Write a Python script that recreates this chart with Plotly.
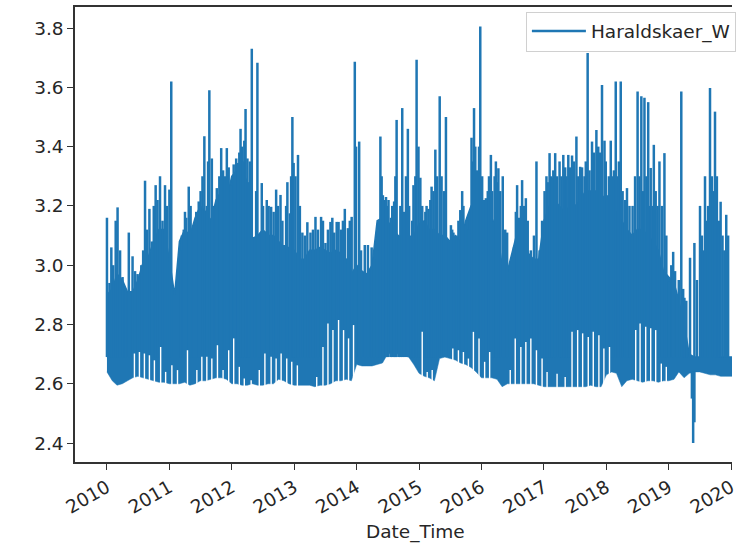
import pandas as pd
import plotly.graph_objects as go

# ---- data ----
series_name = "Haraldskaer_W"
first_month = "2010-01-01"

# lower edge of the dense water-level band, one value per month (2010-01 .. 2020-02)
body_low = [
    2.64, 2.61, 2.595, 2.60, 2.61, 2.62, 2.625, 2.62, 2.615, 2.61, 2.605, 2.605,
    2.60, 2.60, 2.60, 2.605, 2.595, 2.60, 2.61, 2.61, 2.615, 2.62, 2.62, 2.615,
    2.60, 2.60, 2.595, 2.595, 2.60, 2.595, 2.595, 2.60, 2.60, 2.615, 2.61, 2.60,
    2.595, 2.595, 2.595, 2.595, 2.59, 2.595, 2.595, 2.60, 2.61, 2.61, 2.615, 2.61,
    2.665, 2.66, 2.66, 2.66, 2.665, 2.67, 2.70, 2.705, 2.70, 2.695, 2.69, 2.665,
    2.635, 2.625, 2.62, 2.61, 2.685, 2.69, 2.685, 2.68, 2.67, 2.665, 2.655, 2.64,
    2.62, 2.62, 2.62, 2.615, 2.59, 2.60, 2.60, 2.60, 2.60, 2.60, 2.60, 2.595,
    2.59, 2.59, 2.59, 2.59, 2.59, 2.59, 2.59, 2.59, 2.59, 2.595, 2.59, 2.59,
    2.63, 2.64, 2.635, 2.59, 2.61, 2.615, 2.61, 2.605, 2.61, 2.61, 2.605, 2.61,
    2.61, 2.615, 2.64, 2.62, 2.635, 2.64, 2.64, 2.635, 2.63, 2.63, 2.625, 2.625,
    2.625, 2.625,
]

# upper edge of the dense band, one value per month
body_top = [
    2.90, 2.92, 2.97, 2.95, 2.91, 2.91, 2.95, 3.01, 3.03, 3.08, 3.12, 3.12,
    3.02, 2.90, 3.08, 3.12, 3.10, 3.16, 3.20, 3.18, 3.15, 3.22, 3.25, 3.22,
    3.30, 3.32, 3.32, 3.28, 3.09, 3.10, 3.12, 3.10, 3.10, 3.08, 3.06, 3.06,
    3.05, 3.02, 3.02, 3.05, 3.05, 3.06, 3.05, 3.04, 3.05, 3.04, 3.02, 2.97,
    3.00, 2.98, 2.97, 3.00, 3.15, 3.16, 3.15, 3.12, 3.10, 3.08, 3.07, 3.10,
    3.14, 3.15, 3.12, 3.12, 3.10, 3.10, 3.08, 3.10, 3.08, 3.15, 3.20, 3.20,
    3.20, 3.18, 3.16, 3.12, 3.00, 2.98, 3.05, 3.12, 3.08, 3.04, 3.02, 3.02,
    3.15, 3.20, 3.22, 3.20, 3.18, 3.20, 3.20, 3.22, 3.25, 3.25, 3.25, 3.24,
    3.22, 3.20, 3.18, 3.15, 3.12, 3.10, 3.12, 3.12, 3.10, 3.08, 3.05, 2.98,
    2.96, 2.94, 2.88, 2.80, 2.70, 2.69, 2.69, 2.70, 2.70, 2.69, 2.69, 2.69,
    2.69, 2.69,
]

# storm-surge peaks (decimal year, peak level)
spike_years = [
    2010.00, 2010.04, 2010.07, 2010.14, 2010.17, 2010.25, 2010.30, 2010.35, 2010.41, 2010.49,
    2010.55, 2010.61, 2010.68, 2010.72, 2010.78, 2010.85, 2010.89, 2010.93, 2011.00, 2011.03,
    2011.18, 2011.23, 2011.27, 2011.31, 2011.39, 2011.47, 2011.56, 2011.60, 2011.64, 2011.68,
    2011.76, 2011.83, 2011.92, 2011.99, 2012.05, 2012.10, 2012.14, 2012.18, 2012.22, 2012.27,
    2012.32, 2012.36, 2012.41, 2012.44, 2012.48, 2012.52, 2012.56, 2012.63, 2012.71, 2012.78,
    2012.84, 2012.89, 2012.93, 2012.97, 2012.99, 2013.06, 2013.13, 2013.21, 2013.26, 2013.34,
    2013.43, 2013.50, 2013.58, 2013.64, 2013.68, 2013.71, 2013.81, 2013.86, 2013.92, 2013.97,
    2014.04, 2014.13, 2014.18, 2014.24, 2014.38, 2014.42, 2014.47, 2014.51, 2014.55, 2014.60,
    2014.64, 2014.68, 2014.73, 2014.76, 2014.82, 2014.86, 2014.91, 2014.96, 2015.02, 2015.07,
    2015.15, 2015.20, 2015.26, 2015.33, 2015.43, 2015.51, 2015.55, 2015.60, 2015.66, 2015.69,
    2015.74, 2015.80, 2015.84, 2015.88, 2015.90, 2015.93, 2015.98, 2016.04, 2016.07, 2016.15,
    2016.19, 2016.23, 2016.27, 2016.34, 2016.41, 2016.52, 2016.57, 2016.60, 2016.65, 2016.71,
    2016.79, 2016.88, 2016.93, 2017.01, 2017.09, 2017.13, 2017.18, 2017.25, 2017.31, 2017.39,
    2017.45, 2017.52, 2017.58, 2017.70, 2017.73, 2017.77, 2017.84, 2017.93, 2017.97, 2018.01,
    2018.07, 2018.15, 2018.23, 2018.33, 2018.42, 2018.50, 2018.56, 2018.61, 2018.67, 2018.71,
    2018.76, 2018.85, 2018.93, 2019.00, 2019.07, 2019.13, 2019.20, 2019.25, 2019.34, 2019.41,
    2019.50, 2019.58, 2019.66, 2019.74, 2019.83, 2019.92,
]
spike_tops = [
    3.16, 2.94, 3.06, 3.15, 3.195, 2.96, 2.92, 3.11, 3.03, 2.97,
    3.00, 3.285, 3.19, 3.08, 3.27, 3.30, 3.15, 3.27, 3.255, 3.62,
    3.05, 3.12, 3.16, 3.265, 3.135, 3.215, 3.435, 3.20, 3.59, 3.36,
    3.26, 3.395, 3.395, 3.27, 3.315, 3.345, 3.46, 3.35, 3.527, 3.28,
    3.73, 3.095, 3.683, 3.10, 3.277, 3.115, 3.22, 3.197, 3.255, 3.237,
    3.068, 3.28, 3.175, 3.50, 3.345, 3.372, 3.11, 3.145, 3.11, 3.163,
    3.163, 3.075, 3.146, 3.11, 3.146, 3.146, 3.19, 3.125, 3.163, 3.686,
    3.417, 3.068, 3.068, 3.06, 3.434, 3.236, 3.23, 3.22, 3.16, 3.215,
    3.49, 3.10, 3.53, 3.18, 3.46, 3.10, 3.27, 3.693, 3.295, 3.146,
    3.19, 3.265, 3.39, 3.57, 3.50, 3.135, 3.11, 3.10, 3.186, 3.25,
    3.135, 3.12, 3.43, 3.53, 3.40, 3.32, 3.805, 3.22, 3.226, 3.372,
    3.146, 3.35, 3.327, 3.30, 3.11, 3.06, 3.27, 3.16, 3.287, 3.226,
    3.05, 3.35, 3.05, 3.25, 3.378, 3.295, 3.378, 3.35, 3.372, 3.372,
    3.37, 3.434, 3.332, 3.716, 3.32, 3.417, 3.456, 3.608, 3.42, 3.236,
    3.42, 3.62, 3.62, 3.26, 3.20, 3.586, 3.57, 3.565, 3.55, 3.328,
    3.406, 3.35, 3.378, 2.944, 3.045, 2.90, 3.586, 2.89, 3.025, 3.075,
    3.20, 3.30, 3.598, 3.518, 3.214, 3.17,
]

# smaller peaks that rise just above the dense band
minor_years = [
    2010.10, 2010.21, 2010.45, 2010.58, 2010.64, 2010.75, 2010.81, 2010.96,
    2011.20, 2011.25, 2011.34, 2011.43, 2011.50, 2011.53, 2011.62, 2011.71, 2011.80, 2011.86,
    2011.89, 2011.95,
    2012.03, 2012.07, 2012.12, 2012.16, 2012.20, 2012.25, 2012.29, 2012.39, 2012.50, 2012.59,
    2012.67, 2012.74, 2012.81, 2012.87, 2012.95,
    2013.02, 2013.09, 2013.17, 2013.30, 2013.38, 2013.46, 2013.54, 2013.61, 2013.75, 2013.78,
    2013.89, 2013.99,
    2014.07, 2014.28, 2014.33, 2014.40, 2014.45, 2014.49, 2014.57, 2014.62, 2014.70, 2014.79,
    2014.84, 2014.89, 2014.94, 2014.99,
    2015.05, 2015.10, 2015.12, 2015.18, 2015.23, 2015.29, 2015.36, 2015.40, 2015.53, 2015.63,
    2015.71, 2015.77, 2015.86, 2015.96,
    2016.01, 2016.10, 2016.12, 2016.17, 2016.21, 2016.25, 2016.30, 2016.38, 2016.55, 2016.63,
    2016.68, 2016.74, 2016.84, 2016.97,
    2017.04, 2017.06, 2017.11, 2017.15, 2017.21, 2017.28, 2017.34, 2017.36, 2017.42, 2017.48,
    2017.55, 2017.61, 2017.65, 2017.67, 2017.80, 2017.87, 2017.90, 2017.99,
    2018.04, 2018.10, 2018.12, 2018.18, 2018.20, 2018.26, 2018.30, 2018.37, 2018.46, 2018.53,
    2018.59, 2018.64, 2018.69, 2018.74, 2018.79, 2018.82, 2018.89, 2018.96,
    2019.04, 2019.10, 2019.16, 2019.23, 2019.28, 2019.45, 2019.53, 2019.55, 2019.61, 2019.63,
    2019.69, 2019.71, 2019.77, 2019.80, 2019.86, 2019.89, 2019.95,
]
minor_tops = [
    3.00, 3.05, 2.98, 3.05, 3.12, 3.20, 3.22, 3.20,
    3.10, 3.18, 3.20, 3.18, 3.25, 3.30, 3.35, 3.20, 3.30, 3.32,
    3.30, 3.33,
    3.34, 3.36, 3.38, 3.40, 3.42, 3.36, 3.35, 3.25, 3.20, 3.20,
    3.18, 3.20, 3.15, 3.20, 3.30,
    3.30, 3.20, 3.10, 3.12, 3.12, 3.15, 3.12, 3.16, 3.12, 3.15,
    3.15, 3.40,
    3.05, 3.02, 3.05, 3.30, 3.22, 3.20, 3.20, 3.30, 3.20, 3.30,
    3.20, 3.15, 3.30, 3.40,
    3.20, 3.18, 3.20, 3.22, 3.25, 3.30, 3.30, 3.25, 3.12, 3.15,
    3.20, 3.15, 3.35, 3.40,
    3.30, 3.25, 3.30, 3.25, 3.30, 3.28, 3.25, 3.12, 3.18, 3.20,
    3.20, 3.15, 3.10, 3.15,
    3.30, 3.28, 3.30, 3.32, 3.30, 3.30, 3.33, 3.30, 3.33, 3.35,
    3.30, 3.33, 3.30, 3.35, 3.38, 3.40, 3.38, 3.35,
    3.30, 3.30, 3.32, 3.30, 3.35, 3.25, 3.22, 3.20, 3.30, 3.30,
    3.25, 3.30, 3.20, 3.20, 3.25, 3.20, 3.20, 3.10,
    3.00, 2.98, 2.95, 2.92, 2.88, 2.95, 3.10, 3.05, 3.15, 3.20,
    3.30, 3.25, 3.30, 3.15, 3.10, 3.05, 3.10,
]

# neap-tide spells whose low water stayed above the floor (decimal year, lowest level)
neap_years = [
    2010.44, 2010.52, 2010.60, 2010.68, 2010.76, 2010.86, 2010.94,
    2011.04, 2011.13, 2011.29, 2011.44, 2011.52, 2011.60, 2011.68, 2011.77, 2011.86, 2011.95,
    2012.03, 2012.12, 2012.20, 2012.31, 2012.44, 2012.53, 2012.63, 2012.71, 2012.79, 2012.88,
    2012.96,
    2013.05, 2013.36, 2013.46, 2013.54, 2013.62, 2013.71, 2013.79, 2013.87, 2013.95,
    2015.05, 2015.13, 2015.21, 2015.54, 2015.63, 2015.71, 2015.79, 2015.87, 2015.96,
    2016.05, 2016.13, 2016.46, 2016.54, 2016.63, 2016.71, 2016.79, 2016.88, 2016.97,
    2017.05, 2017.21, 2017.34, 2017.45, 2017.54, 2017.62, 2017.71, 2017.79, 2017.88, 2017.96,
    2018.05, 2018.47, 2018.54, 2018.63, 2018.71, 2018.79, 2018.88, 2018.96,
]
neap_lows = [
    2.702, 2.707, 2.702, 2.696, 2.679, 2.724, 2.640,
    2.662, 2.646, 2.713, 2.646, 2.691, 2.691, 2.685, 2.730, 2.646, 2.713,
    2.753, 2.657, 2.618, 2.612, 2.646, 2.702, 2.691, 2.685, 2.702, 2.685,
    2.674,
    2.662, 2.623, 2.724, 2.803, 2.781, 2.815, 2.781, 2.753, 2.798,
    2.775, 2.640, 2.646, 2.719, 2.713, 2.707, 2.685, 2.775, 2.753,
    2.674, 2.707, 2.646, 2.753, 2.724, 2.741, 2.753, 2.713, 2.685,
    2.640, 2.634, 2.623, 2.775, 2.781, 2.770, 2.758, 2.775, 2.764, 2.719,
    2.724, 2.781, 2.803, 2.792, 2.787, 2.781, 2.668, 2.657,
]

# the short drop in spring 2019 (decimal year, lowest level)
dip_years = [2019.37, 2019.39, 2019.41]
dip_bottoms = [2.55, 2.40, 2.47]

year_ticks = list(range(2010, 2021))

# ---- build figure ----
BLUE = "#1f77b4"
Y_RANGE = [2.336, 3.871]
start = pd.Timestamp(first_month)


def to_date(yr):
    return start + pd.to_timedelta((yr - 2010) * 365.25, unit="D")


def segments(years, ends, base):
    xs, ys = [], []
    for yr, end in zip(years, ends):
        d = to_date(yr)
        xs += [d, d, None]
        ys += [base, end, None]
    return xs, ys


months = pd.date_range(first_month, periods=len(body_low), freq="MS")
spike_x, spike_y = segments(spike_years, spike_tops, 2.69)
minor_x, minor_y = segments(minor_years, minor_tops, 2.69)
neap_x, neap_y = segments(neap_years, neap_lows, 2.45)
dip_x, dip_y = segments(dip_years, dip_bottoms, 2.64)

fig = go.Figure()
fig.add_trace(go.Scatter(x=months, y=body_low, mode="lines",
                         line=dict(color=BLUE, width=0.5), showlegend=False,
                         hoverinfo="skip"))
fig.add_trace(go.Scatter(x=months, y=body_top, mode="lines", fill="tonexty",
                         fillcolor=BLUE, line=dict(color=BLUE, width=1.5),
                         showlegend=False, hoverinfo="skip"))
fig.add_trace(go.Scatter(x=dip_x, y=dip_y, mode="lines",
                         line=dict(color=BLUE, width=2.5), showlegend=False))
fig.add_trace(go.Scatter(x=minor_x, y=minor_y, mode="lines",
                         line=dict(color=BLUE, width=2.5), showlegend=False))
fig.add_trace(go.Scatter(x=spike_x, y=spike_y, mode="lines", name=series_name,
                         line=dict(color=BLUE, width=2.5), showlegend=True))
# light neap gaps drawn on an overlaying copy of the y axis so they sit on top
fig.add_trace(go.Scatter(x=neap_x, y=neap_y, mode="lines", yaxis="y2",
                         line=dict(color="white", width=1.4),
                         showlegend=False, hoverinfo="skip"))

FONT = "DejaVu Sans"
fig.update_layout(
    width=738, height=547, autosize=False,
    margin=dict(l=75, r=0, t=7, b=85),
    paper_bgcolor="white", plot_bgcolor="white",
    font=dict(family=FONT, size=18.5, color="#262626"),
    showlegend=True,
    legend=dict(x=0.6863, y=0.99, xanchor="left", yanchor="top",
                bgcolor="rgba(255,255,255,0.85)", bordercolor="#d0d0d0",
                borderwidth=1, font=dict(family=FONT, size=18.5, color="#262626"),
                itemwidth=54, entrywidth=230, entrywidthmode="pixels"),
    annotations=[dict(text="Date_Time", xref="paper", yref="paper",
                      x=(419 - 75) / 663, y=(462 - 532) / 455,
                      xanchor="center", yanchor="middle", showarrow=False,
                      font=dict(family=FONT, size=18.5, color="#262626"))],
    yaxis2=dict(overlaying="y", range=Y_RANGE, visible=False, showgrid=False,
                zeroline=False),
)
fig.update_xaxes(
    type="date",
    range=["2009-06-28", "2020-01-06"],
    tickvals=[pd.Timestamp(f"{y}-01-01") for y in year_ticks],
    ticktext=[str(y) for y in year_ticks],
    tickangle=-30, ticklabeloverflow="allow",
    ticks="outside", ticklen=6, tickwidth=1.2, tickcolor="#333",
    showline=True, linecolor="#333", linewidth=1.5, mirror=True,
    showgrid=False, zeroline=False,
)
fig.update_layout(yaxis=dict(
    range=Y_RANGE,
    tickvals=[2.4, 2.6, 2.8, 3.0, 3.2, 3.4, 3.6, 3.8],
    ticktext=["2.4", "2.6", "2.8", "3.0", "3.2", "3.4", "3.6", "3.8"],
    ticks="outside", ticklen=6, tickwidth=1.2, tickcolor="#333",
    showline=True, linecolor="#333", linewidth=1.5, mirror=False,
    showgrid=False, zeroline=False,
))

fig.write_html(
    "out.html",
    config={"displayModeBar": False},
    post_script="document.body.style.margin='0';document.body.style.overflow='hidden';",
)
